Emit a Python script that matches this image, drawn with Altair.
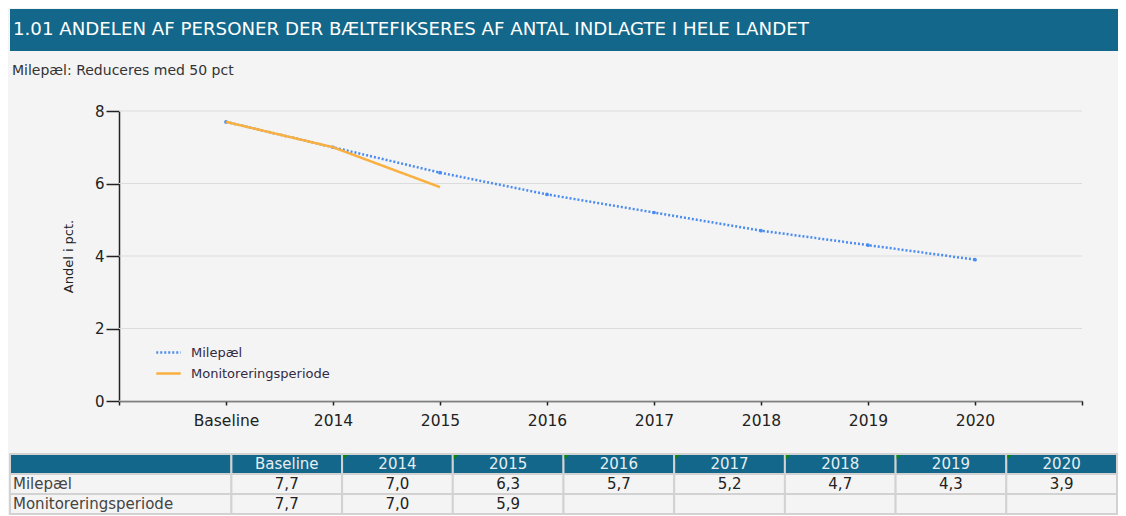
import altair as alt
import pandas as pd

# ---------------- data ----------------
categories = ["Baseline", "2014", "2015", "2016", "2017", "2018", "2019", "2020"]
milepael = [7.7, 7.0, 6.3, 5.7, 5.2, 4.7, 4.3, 3.9]
monitorering = [7.7, 7.0, 5.9]
series_names = ["Milepæl", "Monitoreringsperiode"]
y_ticks = [0, 2, 4, 6, 8]
title_text = "1.01 ANDELEN AF PERSONER DER BÆLTEFIKSERES AF ANTAL INDLAGTE I HELE LANDET"
subtitle_text = "Milepæl: Reduceres med 50 pct"
y_title = "Andel i pct."

# ---------------- style ----------------
BG = "#f4f4f4"
TEAL = "#13678a"
BLUE = "#4a8cf0"
ORANGE = "#f9b040"
FONT = "DejaVu Sans"
TXT = "#222222"
LEFT = 109          # room left of the plot for the y axis
PLOT_W = 963

# ---------------- line data ----------------
rows = []
for i, (c, v) in enumerate(zip(categories, milepael)):
    rows.append({"pos": i + 1, "cat": c, "value": v, "serie": series_names[0]})
for i, (c, v) in enumerate(zip(categories, monitorering)):
    rows.append({"pos": i + 1, "cat": c, "value": v, "serie": series_names[1]})
df = pd.DataFrame(rows)
grid_df = pd.DataFrame({"g": y_ticks, "x0": [0] * len(y_ticks), "x1": [len(categories) + 1] * len(y_ticks)})

tick_labels = [""] + categories + [""]
label_expr = "[" + ",".join("'" + s + "'" for s in tick_labels) + "][datum.value]"

# ---------------- header bar ----------------
header = alt.Chart(pd.DataFrame({"t": [title_text]})).mark_text(
    align="left", baseline="middle", font=FONT, fontSize=18.2, color="white"
).encode(
    x=alt.value(3), y=alt.value(21), text="t:N"
).properties(width=1108, height=42, view=alt.ViewBackground(fill=TEAL, stroke=None))

# ---------------- main chart ----------------
x_scale = alt.Scale(domain=[0, len(categories) + 1], range=[LEFT, LEFT + PLOT_W], nice=False, zero=False)
y_scale = alt.Scale(domain=[0, 8], nice=False)

x_enc = alt.X(
    "pos:Q", scale=x_scale,
    axis=alt.Axis(
        values=list(range(len(categories) + 2)), labelExpr=label_expr, title=None, grid=False,
        domainColor=TXT, tickColor=TXT, domainWidth=1.5, tickWidth=1.5, tickSize=4,
        labelFontSize=15.5, labelColor=TXT, labelFont=FONT, labelPadding=8,
    ),
)
y_enc = alt.Y(
    "value:Q", scale=y_scale,
    axis=alt.Axis(
        values=y_ticks, title=y_title, titleFont=FONT, titleFontSize=13, titleFontWeight="normal",
        titleColor=TXT, titlePadding=19, grid=False, offset=-LEFT,
        domainColor=TXT, tickColor=TXT, domainWidth=1.5, tickWidth=1.5, tickSize=13,
        labelFontSize=15, labelColor=TXT, labelFont=FONT, labelPadding=2,
    ),
)

color_scale = alt.Scale(domain=series_names, range=[BLUE, ORANGE])
dash_scale = alt.Scale(domain=series_names, range=[[2, 2], [1, 0]])

grid = alt.Chart(grid_df).mark_rule(color="#dcdcdc", strokeWidth=1.2).encode(
    x=alt.X("x0:Q", scale=x_scale), x2="x1:Q", y=alt.Y("g:Q", scale=y_scale)
)

lines = alt.Chart(df).mark_line(strokeWidth=2.5).encode(
    x=x_enc,
    y=y_enc,
    color=alt.Color(
        "serie:N", scale=color_scale,
        legend=alt.Legend(
            title=None, orient="none", legendX=145, legendY=330, symbolType="stroke",
            symbolSize=600, symbolStrokeWidth=2.5, labelFont=FONT, labelFontSize=13,
            labelColor="#332a44", rowPadding=0, padding=0, labelOffset=9,
        ),
    ),
    strokeDash=alt.StrokeDash("serie:N", scale=dash_scale, legend=None),
    order=alt.Order("serie:N"),
)

points = alt.Chart(df[df["serie"] == series_names[0]]).mark_point(
    filled=True, size=14, opacity=1
).encode(x="pos:Q", y="value:Q", color=alt.value(BLUE))

main = alt.layer(grid, points, lines).properties(
    width=LEFT + PLOT_W, height=290,
    title=alt.TitleParams(
        subtitle_text, anchor="start", frame="group", dx=2, font=FONT, fontSize=14,
        fontWeight="normal", color="#333333", offset=26.5,
    ),
)

# ---------------- table ----------------
cells = []
hdr_cols = [""] + categories
for ci, lab in enumerate(hdr_cols):
    x0 = -2 if ci == 0 else ci - 1
    x1 = 0 if ci == 0 else ci
    cells.append({"x0": x0, "x1": x1, "y0": 0, "y1": 1, "fill": TEAL, "txt": lab,
                  "tx": (x0 + x1) / 2, "col": "w"})
for ri, (name, vals) in enumerate(zip(series_names, [milepael, monitorering])):
    cells.append({"x0": -2, "x1": 0, "y0": ri + 1, "y1": ri + 2, "fill": BG, "txt": name,
                  "tx": -2, "col": "l"})
    for ci in range(len(categories)):
        t = f"{vals[ci]:.1f}".replace(".", ",") if ci < len(vals) else ""
        cells.append({"x0": ci, "x1": ci + 1, "y0": ri + 1, "y1": ri + 2, "fill": BG, "txt": t,
                      "tx": ci + 0.5, "col": "d"})
cdf = pd.DataFrame(cells)
cdf["ty"] = cdf["y0"] + 0.5

tx_scale = alt.Scale(domain=[-2, len(categories)], nice=False, zero=False)
ty_scale = alt.Scale(domain=[-0.65, 3], nice=False, zero=False, reverse=True)

rects = alt.Chart(cdf).mark_rect(stroke="#d2d2d2", strokeWidth=2).encode(
    x=alt.X("x0:Q", scale=tx_scale, axis=None),
    x2="x1:Q",
    y=alt.Y("y0:Q", scale=ty_scale, axis=None),
    y2="y1:Q",
    fill=alt.Fill("fill:N", scale=None),
)

hdr_txt = alt.Chart(cdf[cdf["col"] == "w"]).mark_text(
    font=FONT, fontSize=15, color="#e6eef2", baseline="middle"
).encode(x="tx:Q", y="ty:Q", text="txt:N")
lab_txt = alt.Chart(cdf[cdf["col"] == "l"]).mark_text(
    font=FONT, fontSize=15, color="#444444", baseline="middle", align="left", dx=3
).encode(x="tx:Q", y="ty:Q", text="txt:N")
val_txt = alt.Chart(cdf[cdf["col"] == "d"]).mark_text(
    font=FONT, fontSize=15, color=TXT, baseline="middle"
).encode(x="tx:Q", y="ty:Q", text="txt:N")

marker_df = pd.DataFrame({"mx": list(range(1, len(categories))), "my": [0] * (len(categories) - 1)})
markers = alt.Chart(marker_df).mark_point(
    shape="M0,0L1,0L0,1Z", filled=True, color="#0a8a0a", size=80, opacity=1, xOffset=1, yOffset=1
).encode(x="mx:Q", y="my:Q")

table = alt.layer(rects, hdr_txt, lab_txt, val_txt, markers).properties(width=1107, height=73)

chart = alt.vconcat(
    header, main, table, spacing=12,
).properties(
    background=BG,
    padding={"left": 1, "top": 1, "right": 0, "bottom": 0},
).configure_view(stroke=None)

chart.save("out.html", embed_options={"renderer": "svg", "actions": False})
